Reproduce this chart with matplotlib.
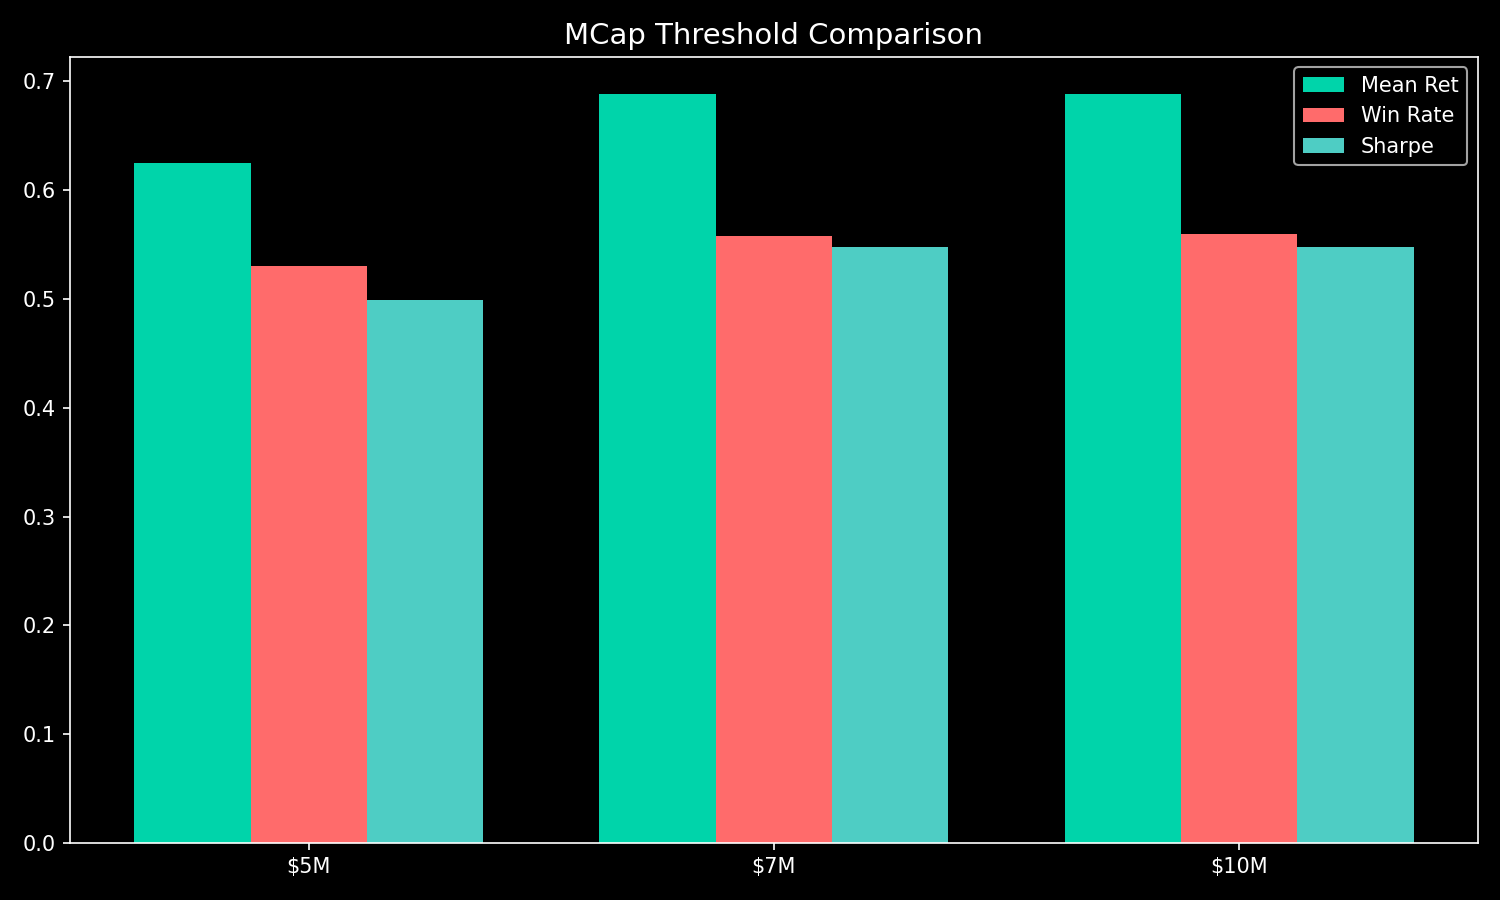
import matplotlib
matplotlib.use("Agg")
import matplotlib.pyplot as plt
import numpy as np

plt.style.use("dark_background")

categories = ["$5M", "$7M", "$10M"]
mean_ret = [0.625, 0.688, 0.688]
win_rate = [0.530, 0.558, 0.560]
sharpe = [0.499, 0.548, 0.548]

fig, ax = plt.subplots(figsize=(10, 6), dpi=150)
x = np.arange(len(categories))
w = 0.25
ax.bar(x - w, mean_ret, w, label="Mean Ret", color="#00D4AA")
ax.bar(x, win_rate, w, label="Win Rate", color="#FF6B6B")
ax.bar(x + w, sharpe, w, label="Sharpe", color="#4ECDC4")
ax.set_xticks(x)
ax.set_xticklabels(categories)
ax.set_title("MCap Threshold Comparison", fontsize=14)
ax.legend()
fig.tight_layout()
fig.savefig("out.png")
